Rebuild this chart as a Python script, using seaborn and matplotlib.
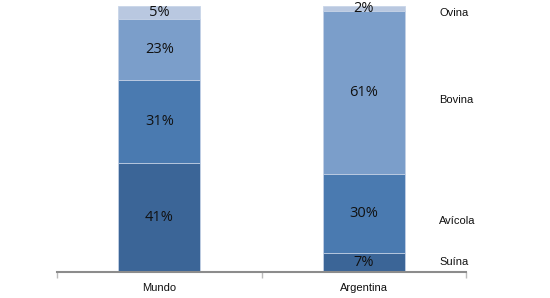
import matplotlib
matplotlib.use("Agg")
import matplotlib.pyplot as plt
import seaborn as sns
import numpy as np
import pandas as pd

regions = ["Mundo", "Argentina"]
species = ["Suína", "Avícola", "Bovina", "Ovina"]
suina = [41, 7]
avicola = [31, 30]
bovina = [23, 61]
ovina = [5, 2]
colors = ["#3b6597", "#4a7ab0", "#7b9eca", "#b9c8e0"]

series = [suina, avicola, bovina, ovina]
df = pd.DataFrame({"region": regions})
for name, vals in zip(species, series):
    df[name] = vals

sns.set_theme(style="white")
plt.rcParams["font.family"] = ["Liberation Sans", "DejaVu Sans"]

fig = plt.figure(figsize=(5.5, 2.98), dpi=100)
ax = fig.add_axes([57/550, 1-272/298, (466-57)/550, (272-6)/298])

cum = np.cumsum(np.array(series), axis=0)
for i in range(len(species) - 1, -1, -1):
    d = pd.DataFrame({"region": regions, "v": cum[i]})
    sns.barplot(data=d, x="region", y="v", order=regions, color=colors[i],
                saturation=1, width=0.4, edgecolor="#c9d5e8", linewidth=0.6, ax=ax)

# percent labels
for j, reg in enumerate(regions):
    bottom = 0
    for i, vals in enumerate(series):
        v = vals[j]
        ax.text(j, bottom + v / 2, f"{v}%", ha="center", va="center",
                fontsize=10.5, color="#111111", family=["Open Sans", "DejaVu Sans"])
        bottom += v

# right-side labels
label_y = [3.7, 19.1, 64.8, 97.4]
for name, y in zip(species, label_y):
    ax.text(1.37, y, name, ha="left", va="center", fontsize=8, color="#111111",
            clip_on=False)

ax.set_xlim(-0.5, 1.5)
ax.set_ylim(0, 100)
ax.set_xlabel("")
ax.set_ylabel("")
ax.set_yticks([])
for s in ["top", "right", "left"]:
    ax.spines[s].set_visible(False)
ax.spines["bottom"].set_color("#8c8c8c")
ax.spines["bottom"].set_linewidth(1.5)
ax.set_xticks([0, 1])
ax.set_xticklabels(regions, fontsize=8, color="#111111")
ax.set_xticks([-0.5, 0.5, 1.5], minor=True)
ax.tick_params(axis="x", which="major", length=0, pad=8)
ax.tick_params(axis="x", which="minor", length=4, width=1, color="#bbbbbb",
               direction="out", bottom=True)
ax.patch.set_alpha(0)

fig.savefig("out.png", dpi=100)
